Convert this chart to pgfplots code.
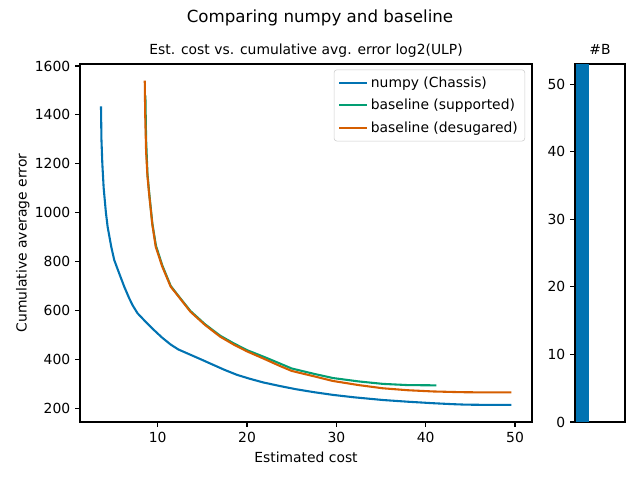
\documentclass[border=0pt]{standalone}
\usepackage{fontspec}
\setmainfont{DejaVu Sans}
\usepackage{pgfplots}
\pgfplotsset{compat=1.18}
\definecolor{cblue}{HTML}{0173B2}
\definecolor{cgreen}{HTML}{029E73}
\definecolor{corange}{HTML}{D55E00}
\pgfplotsset{
  mystyle/.style={
    scale only axis,
    anchor=south west,
    axis line style={line width=0.8pt},
    tick style={line width=0.8pt, black},
    tick align=outside,
    major tick length=3.5pt,
    xtick pos=bottom, ytick pos=left,
    /pgf/number format/assume math mode=true,
    /pgf/number format/set thousands separator={},
    tick label style={font=\fontsize{10}{12}\selectfont},
    label style={font=\fontsize{10}{12}\selectfont},
    title style={font=\fontsize{10}{12}\selectfont, at={(0.5,1)}, anchor=base, yshift=0.5pt},
    scaled ticks=false,
  }
}
\begin{document}
\begin{tikzpicture}
\path[use as bounding box] (0,0) rectangle (460.8pt,345.6pt);
\node at (230.4pt,332.7pt) {\fontsize{12}{14}\selectfont Comparing numpy and baseline};
\begin{axis}[mystyle,
  at={(57.6pt,41.76pt)},
  width=325.44pt, height=257.76pt,
  xmin=1.3, xmax=51.9, ymin=143, ymax=1608,
  xtick={10,20,30,40,50}, ytick={200,400,...,1600},
  title={Est. cost vs. cumulative avg. error log2(ULP)},
  xlabel={Estimated cost}, ylabel={Cumulative average error},
  ylabel style={at={(axis description cs:-0.1265,0.5)}, anchor=center},
  legend style={at={(1,1)}, anchor=north east, xshift=-5pt, yshift=-4pt,
    draw=black!20, rounded corners=2pt, font=\fontsize{10}{12}\selectfont,
    row sep=3pt, inner sep=3pt},
  legend cell align=left,
  legend image code/.code={\draw[#1, line width=1.5pt] (0pt,0pt) -- (20pt,0pt);},
]
\addplot[cblue, line width=1.5pt] coordinates {
(3.65,1435) (3.70,1300) (3.8,1200) (3.95,1100) (4.2,1000) (4.4,940) (4.8,860) (5.13,806) (5.7,750) (6.25,697) (6.8,650) (7.2,620) (7.74,588) (8.6,555) (9.59,519) (10.5,488) (11.45,460) (12.3,440) (13.3,424) (14.8,400) (16.27,376) (17.5,356) (18.87,336) (20.3,320) (21.8,305) (23.7,290) (25.5,277) (27.5,265) (29.6,254) (32,244) (35.2,233) (38,226) (40.77,220) (43,216) (44.5,214) (47,213) (49.6,213)
};
\addlegendentry{numpy (Chassis)}
\addplot[cgreen, line width=1.5pt] coordinates {
(8.62,1480) (8.7,1300) (8.85,1160) (9.05,1080) (9.4,955) (9.8,865) (10.5,785) (11.45,700) (12.19,665) (13.67,597) (15.3,543) (17,496) (18.5,465) (20,437) (22,408) (23.7,382) (25,362) (27.5,340) (29.6,323) (32.5,309) (35.2,299) (38,294) (41.2,293)
};
\addlegendentry{baseline (supported)}
\addplot[corange, line width=1.5pt] coordinates {
(8.55,1540) (8.6,1400) (8.7,1250) (8.85,1150) (9.03,1079) (9.4,950) (9.78,860) (10.5,780) (11.45,697) (12.19,663) (13.67,594) (15.3,540) (17,492) (18.5,460) (20,432) (22,400) (23.7,372) (25,352) (27.5,330) (29.6,311) (32.5,294) (35.2,281) (38,273) (40.8,268) (44,265) (47,264) (49.6,264)
};
\addlegendentry{baseline (desugared)}
\end{axis}
\begin{axis}[mystyle,
  at={(414pt,41.76pt)},
  width=36pt, height=257.76pt,
  xmin=0, xmax=50, ymin=0, ymax=53,
  xtick=\empty, ytick={0,10,...,50},
  title={\#B},
]
\addplot[fill=cblue, draw=none] coordinates {(1,0) (1,53) (14.3,53) (14.3,0)} --cycle;
\end{axis}
\end{tikzpicture}
\end{document}
